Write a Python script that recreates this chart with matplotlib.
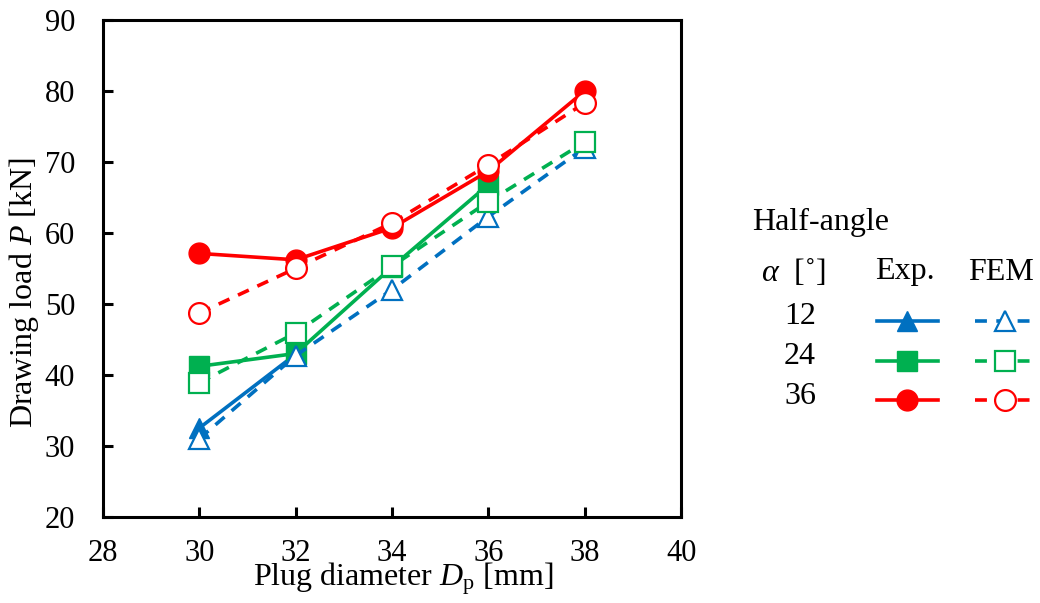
### CARGA DE ESTIRADO FRENTE AL DIÁMETRO DEL TAPÓN ###

import numpy as np
import matplotlib
matplotlib.use("Agg")
import matplotlib.pyplot as plt

# Datos (diámetro del tapón en mm, carga en kN)
diametros = [30, 32, 34, 36, 38]
angulos = ["12", "24", "36"]

exp_12 = [32.5, 42.9, np.nan, np.nan, np.nan]
exp_24 = [41.2, 43.0, 55.2, 66.8, np.nan]
exp_36 = [57.1, 56.2, 60.7, 68.7, 80.0]

fem_12 = [31.0, 42.7, 52.0, 62.3, 72.0]
fem_24 = [38.9, 45.9, 55.3, 64.4, 72.8]
fem_36 = [48.7, 55.0, 61.4, 69.6, 78.3]

colores = ["#0070C0", "#00B050", "#FF0000"]
marcadores = ["^", "s", "o"]

plt.rcParams["font.family"] = ["Liberation Serif", "DejaVu Serif"]
plt.rcParams["mathtext.fontset"] = "custom"
plt.rcParams["mathtext.rm"] = "Liberation Serif"
plt.rcParams["mathtext.it"] = "Liberation Serif:italic"

TAM = 22
TAM_TXT = 23
LW = 2.6
GUIONES = (3.3, 2.6)


# Función para dibujar las curvas experimentales y de FEM
def dibujar_series(ax):
    series_exp = [exp_12, exp_24, exp_36]
    series_fem = [fem_12, fem_24, fem_36]

    for datos, color, marca in zip(series_exp, colores, marcadores):
        ax.plot(diametros, datos, color=color, lw=LW, marker=marca,
                ms=15, mfc=color, mec=color, zorder=3)

    for datos, color, marca in zip(series_fem, colores, marcadores):
        ax.plot(diametros, datos, color=color, lw=LW, marker=marca,
                ms=15, mfc="white", mec=color, mew=1.6,
                linestyle=(0, GUIONES), zorder=4)


# Función para dar formato a los ejes
def formato_ejes(ax):
    ax.set_xlim(28, 40)
    ax.set_ylim(20, 90)
    ax.set_xticks(range(28, 41, 2))
    ax.set_yticks(range(20, 91, 10))

    for lado in ax.spines.values():
        lado.set_linewidth(2.2)

    ax.tick_params(direction="in", length=7, width=2.2, labelsize=TAM,
                   top=False, right=False)
    ax.tick_params(axis="y", pad=20)
    ax.tick_params(axis="x", pad=16)

    # títulos de los ejes (colocados como en el original, algo desplazados)
    ax.set_xlabel(r"Plug diameter $D_\mathrm{p}$ [mm]", fontsize=TAM_TXT)
    ax.set_ylabel(r"Drawing load $P$ [kN]", fontsize=TAM_TXT)
    ax.xaxis.set_label_coords(0.52, -0.087)
    ax.yaxis.set_label_coords(-0.107, 0.451)


# Leyenda hecha a mano (a la derecha de la gráfica, en píxeles de la figura)
def leyenda(fig):
    lg = fig.add_axes([0, 0, 1, 1])
    lg.set_xlim(0, 1040)
    lg.set_ylim(603, 0)
    lg.axis("off")

    lg.text(752, 222, "Half-angle", fontsize=TAM_TXT, ha="left", va="center")
    lg.text(761, 272, r"$\alpha$  [˚]", fontsize=TAM_TXT, ha="left", va="center")
    lg.text(905, 272, "Exp.", fontsize=TAM_TXT, ha="center", va="center")
    lg.text(1001, 272, "FEM", fontsize=TAM_TXT, ha="center", va="center")

    filas = [321, 361, 400]
    for texto, y, color, marca in zip(angulos, filas, colores, marcadores):
        lg.text(800, y - 4, texto, fontsize=TAM_TXT, ha="center", va="center")
        lg.plot([877, 938], [y, y], color=color, lw=LW)
        lg.plot([907], [y], color=color, marker=marca, ms=15, mfc=color, mec=color)
        lg.plot([975, 1036], [y, y], color=color, lw=LW, linestyle=(0, GUIONES))
        lg.plot([1005], [y], color=color, marker=marca, ms=15, mfc="white",
                mec=color, mew=1.6)


def main():
    fig = plt.figure(figsize=(10.4, 6.03), dpi=100)
    ax = fig.add_axes([0.099, 0.143, 0.556, 0.824])

    dibujar_series(ax)
    formato_ejes(ax)
    leyenda(fig)

    fig.savefig("out.png", dpi=100)


if __name__ == "__main__":
    main()
